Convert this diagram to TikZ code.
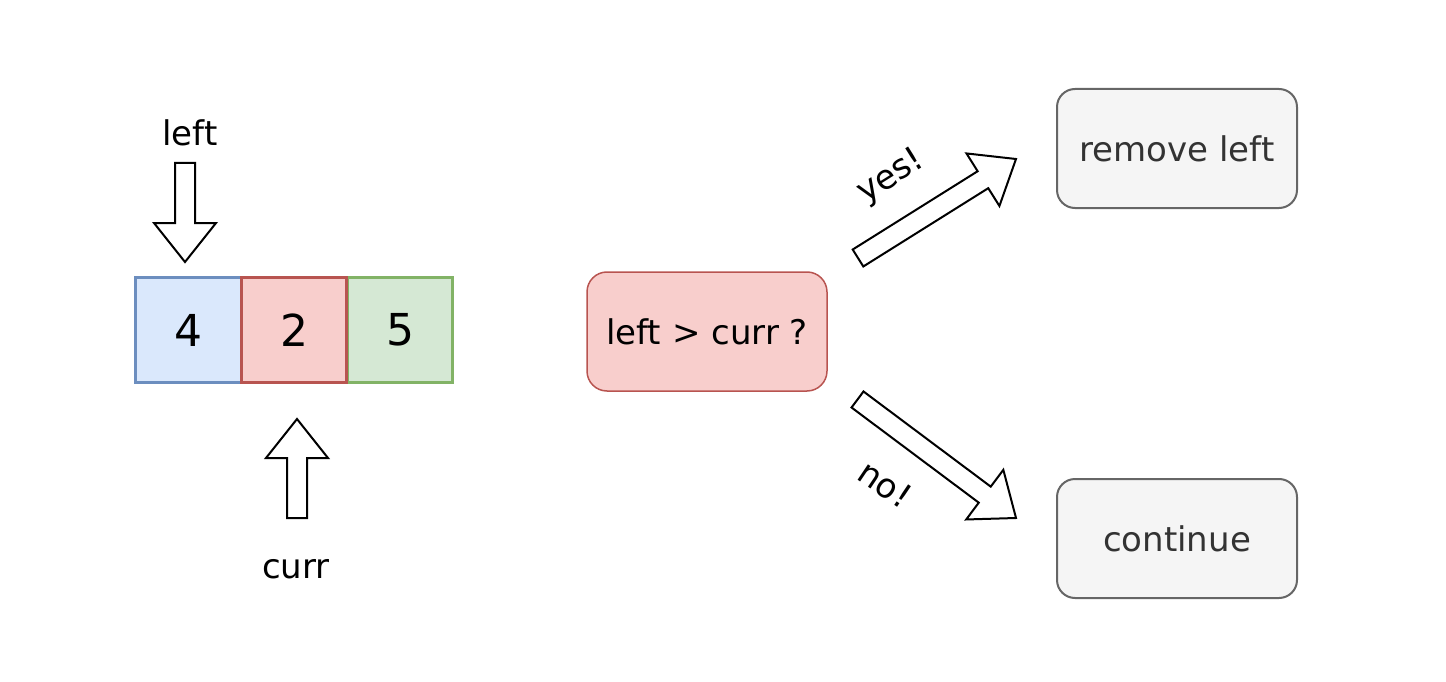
\documentclass[tikz,border=0pt]{standalone}
\usepackage{fontspec}
\setmainfont{DejaVu Sans}
\usepackage{tikz}
\usepackage{xcolor}
\usetikzlibrary{calc}
\usetikzlibrary{positioning}

\definecolor{fillblue}{HTML}{DAE8FC}
\definecolor{edgeblue}{HTML}{6C8EBF}
\definecolor{fillred}{HTML}{F8CECC}
\definecolor{edgered}{HTML}{B85450}
\definecolor{fillgreen}{HTML}{D5E8D4}
\definecolor{edgegreen}{HTML}{82B366}
\definecolor{fillgray}{HTML}{F5F5F5}
\definecolor{edgegray}{HTML}{666666}
\definecolor{textgray}{HTML}{333333}

% hollow block arrow from #1 (tail) to #2 (tip)
\newcommand{\fatarrow}[2]{%
	\coordinate (hb) at ($(#2)!39pt!(#1)$);
	\draw[fat] ($(#1)!10pt!90:(#2)$) -- ($(hb)!10pt!90:(#2)$) -- ($(hb)!31pt!90:(#2)$)
		-- (#2) -- ($(hb)!31pt!-90:(#2)$) -- ($(hb)!10pt!-90:(#2)$)
		-- ($(#1)!10pt!-90:(#2)$) -- cycle;
}

\begin{document}
\begin{tikzpicture}[x=1pt, y=-1pt,
	word/.style={font=\fontsize{34pt}{40pt}\selectfont},
	cell/.style={draw, line width=3pt, minimum width=105.5pt, minimum height=105pt, inner sep=0pt, font=\fontsize{44pt}{50pt}\selectfont},
	decision/.style={draw=edgered, fill=fillred, line width=1.5pt, rounded corners=20pt, minimum width=240pt, minimum height=119pt, word},
	result/.style={draw=edgegray, fill=fillgray, line width=2pt, rounded corners=18pt, minimum width=240pt, minimum height=119pt, text=textgray, word},
	fat/.style={draw=black, fill=white, line width=2pt, line join=miter}]
	\useasboundingbox (0,0) rectangle (1446,682);
	%
	% array cells
	\node[cell, fill=fillblue, draw=edgeblue] (c4) at (188.5,330) {4};
	\node[cell, fill=fillgreen, draw=edgegreen] (c5) at (400,330) {5};
	\node[cell, fill=fillred, draw=edgered] (c2) at (294,330) {2};
	%
	% pointers
	\node[word] (leftLbl) at (190,133) {left};
	\coordinate (leftTail) at (185,163);
	\coordinate (leftTip) at (185,262);
	\fatarrow{leftTail}{leftTip}
	%
	\node[word] (currLbl) at (296,569) {curr};
	\coordinate (currTail) at (297,518);
	\coordinate (currTip) at (297,419);
	\fatarrow{currTail}{currTip}
	%
	% test and outcomes
	\node[decision] (test) at (707,331.5) {left > curr ?};
	\node[result] (remove) at (1177,148.5) {remove left};
	\node[result] (cont) at (1177,538.5) {continue};
	%
	\coordinate (yesTail) at (858,258);
	\coordinate (yesTip) at (1016,159);
	\fatarrow{yesTail}{yesTip}
	\node[word, rotate=32] (yesLbl) at (891,177) {yes!};
	%
	\coordinate (noTail) at (857.5,399.5);
	\coordinate (noTip) at (1016,518);
	\fatarrow{noTail}{noTip}
	\node[word, rotate=-34] (noLbl) at (885,484) {no!};
\end{tikzpicture}
\end{document}
